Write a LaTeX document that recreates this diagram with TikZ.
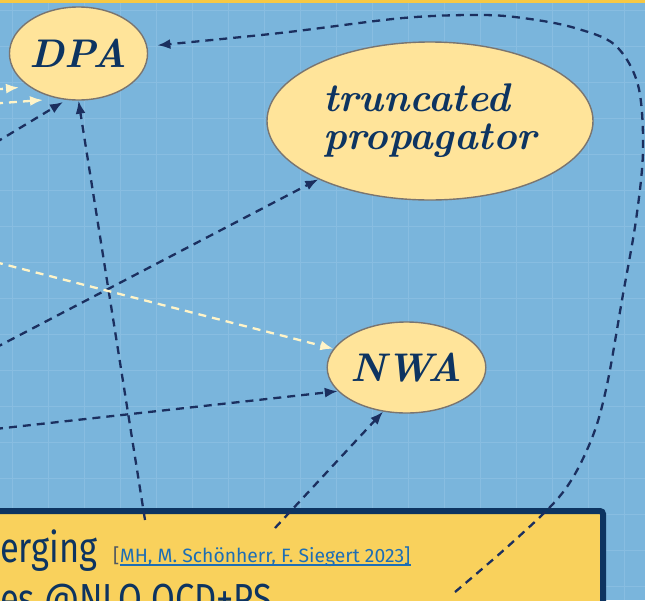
\documentclass[tikz,border=0pt]{standalone}
\usepackage{fontspec}
\newfontfamily\plex{Fira Sans}
\usetikzlibrary{shapes.geometric,arrows.meta}
\definecolor{bgblue}{HTML}{7AB5DC}
\definecolor{gridblue}{HTML}{88BDE1}
\definecolor{navy}{HTML}{0D3461}
\definecolor{arrnavy}{HTML}{1B2F5F}
\definecolor{cream}{HTML}{FFF4C8}
\definecolor{ellfill}{HTML}{FFE49A}
\definecolor{ellline}{HTML}{7A7570}
\definecolor{boxfill}{HTML}{F9D15C}
\definecolor{topstrip}{HTML}{F7C843}
\definecolor{citeblue}{HTML}{1E6EB4}
\definecolor{brgray}{HTML}{505860}
\begin{document}
\begin{tikzpicture}[x=1pt,y=-1pt,
  bubble/.style={ellipse, draw=ellline, line width=1.4pt, fill=ellfill, inner sep=0pt,
    text=navy, font=\fontsize{40}{38}\selectfont\bfseries\itshape},
  conn/.style={draw=arrnavy, line width=2.3pt, dash pattern=on 8pt off 6pt,
    -{Latex[length=13pt,width=10pt]}},
  conncream/.style={conn, draw=cream},
  bigtext/.style={inner sep=0pt, text=navy, font=\plex\fontsize{42}{52}\selectfont},
  citetext/.style={inner sep=0pt, font=\plex\fontsize{19.3}{22}\selectfont},
  slidebox/.style={rectangle, draw=navy, line width=6pt, fill=boxfill, rounded corners=3pt,
    inner sep=0pt, anchor=north west, minimum width=620pt, minimum height=150pt}
]
\useasboundingbox (0,0) rectangle (645,600);
\clip (0,0) rectangle (645,600);
% background and grid
\fill[bgblue] (0,0) rectangle (645,600);
\foreach \i in {0,...,17} \draw[gridblue, line width=1pt] (12+36*\i,0) -- (12+36*\i,600);
\foreach \i in {0,...,16} \draw[gridblue, line width=1pt] (0,10+36*\i) -- (645,10+36*\i);
\fill[topstrip] (0,0) rectangle (645,2.5);

% ellipses
\node[bubble, minimum width=135pt, minimum height=93pt] (dpa) at (78.5,53.5) {DPA};
\node[bubble, minimum width=326pt, minimum height=158pt, align=left] (trunc) at (430,121) {truncated\\propagator};
\node[bubble, minimum width=153pt, minimum height=91pt] (nwa) at (406.5,367.5) {NWA};

% slide box
\node[slidebox] (box) at (-20,508) {};
\node[bigtext, anchor=base west] (merg) at (0,562) {\scalebox{0.82}[1]{erging}};
\node[bigtext, anchor=base west] (proc) at (0,613) {\scalebox{0.82}[1]{es @NLO QCD+PS}};
\node[citetext, anchor=base west, text=brgray] (brk) at (113,562) {[};
\node[citetext, anchor=base west, text=citeblue] (cite) at (brk.base east) {MH, M. Sch\"onherr, F. Siegert 2023]};
\draw[citeblue, line width=1.6pt] ([yshift=-3pt]cite.base west) -- ([yshift=-3pt]cite.base east);

% free ends
\coordinate (lA) at (-5,89.5);   \coordinate (dA) at (19,87.5);
\coordinate (lB) at (-5,103.5);  \coordinate (dB) at (43,100);
\coordinate (lC) at (-5,143);    \coordinate (dC) at (63,102);
\coordinate (lD) at (-5,348);
\coordinate (lE) at (-5,262);
\coordinate (lF) at (-5,429);
\coordinate (s1) at (145,520);
\coordinate (s2) at (275,528);
\coordinate (s3) at (455,592);

% connectors
\draw[conncream] (lA) -- (dA);
\draw[conncream] (lB) -- (dB);
\draw[conn] (lC) -- (dC);
\draw[conn] (s1) -- (dpa.south);
\draw[conn] (lD) -- (trunc);
\draw[conncream] (lE) -- (nwa);
\draw[conn] (lF) -- (nwa.199);
\draw[conn] (s2) -- (nwa.242);
\draw[conn, shorten >=10pt] plot[smooth, tension=0.55] coordinates {
  (s3) (505,549) (552,505) (575,474) (595,430) (608,380) (622,300) (636,220)
  (643,150) (638,85) (615,45) (575,28) (530,19) (483,15) (403,18) (280,33) (dpa.6)};
\end{tikzpicture}
\end{document}
